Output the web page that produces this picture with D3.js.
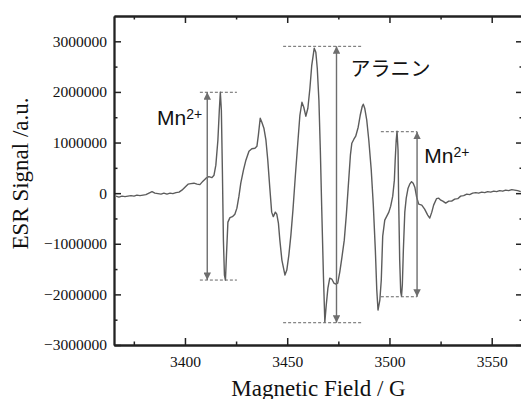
<!DOCTYPE html>
<html>
<head>
<meta charset="utf-8">
<script src="https://cdn.jsdelivr.net/npm/d3@7"></script>
<style>
  body { margin: 0; background: #fff; }
  svg { display: block; }
  .tick text { font-family: "Liberation Serif", "Times New Roman", serif; }
</style>
</head>
<body>
<div id="chart"></div>
<script>
// ESR spectrum (field in G, signal in a.u.)
const field = [
  3366.3, 3367.7, 3369.2, 3370.7, 3372.1, 3373.6, 3375.1, 3376.5, 3378.0, 3379.5,
  3380.9, 3382.4, 3383.9, 3385.3, 3386.8, 3388.3, 3389.7, 3391.2, 3392.7, 3394.1,
  3395.6, 3397.1, 3398.5, 3400.0, 3401.5, 3402.9, 3404.4, 3405.9, 3407.3, 3408.8,
  3410.3, 3411.7, 3413.2, 3414.2, 3415.1, 3416.1, 3416.8, 3417.3, 3417.8, 3418.3,
  3418.8, 3419.3, 3419.8, 3420.3, 3421.0, 3422.0, 3423.2, 3424.4, 3425.4, 3426.4,
  3427.3, 3428.6, 3429.8, 3431.3, 3432.7, 3434.2, 3435.2, 3435.9, 3436.8, 3437.6,
  3438.6, 3439.6, 3440.5, 3441.5, 3442.4, 3443.2, 3444.2, 3444.9, 3445.7, 3446.4,
  3447.4, 3448.9, 3449.8, 3450.8, 3451.8, 3452.8, 3454.0, 3455.2, 3456.2, 3457.2,
  3458.1, 3459.1, 3460.1, 3461.1, 3462.0, 3463.2, 3464.0, 3464.7, 3465.5, 3466.2,
  3466.9, 3467.7, 3468.4, 3469.1, 3469.9, 3470.8, 3471.8, 3472.8, 3473.8, 3474.7,
  3475.7, 3476.7, 3477.9, 3478.9, 3479.9, 3480.9, 3481.6, 3482.6, 3483.5, 3484.7,
  3485.7, 3486.7, 3487.2, 3487.9, 3488.9, 3489.9, 3491.1, 3492.1, 3493.1, 3493.8,
  3494.4, 3495.3, 3496.0, 3496.7, 3497.7, 3498.7, 3499.7, 3500.6, 3501.6, 3502.4,
  3502.8, 3503.3, 3503.7, 3504.2, 3504.5, 3505.0, 3505.5, 3505.9, 3506.3, 3506.8,
  3507.5, 3508.2, 3509.1, 3509.9, 3510.8, 3511.6, 3512.4, 3513.3, 3514.3, 3515.8,
  3517.2, 3518.7, 3519.7, 3520.7, 3521.6, 3523.0, 3524.1, 3525.1, 3526.1, 3527.5,
  3529.0, 3530.4, 3531.9, 3533.4, 3534.8, 3536.3, 3537.8, 3539.2, 3540.7, 3542.2,
  3543.6, 3545.1, 3546.6, 3548.0, 3549.5, 3551.0, 3552.4, 3553.9, 3555.4, 3556.8,
  3558.3, 3559.8, 3561.2, 3562.7, 3564.2
];
const signal = [
  -59000, -79000, -59000, -69000, -59000, -49000, -59000, -39000, -49000, -39000,
  -30000, 0, 30000, 0, -10000, -20000, 0, -20000, 0, -10000,
  10000, 20000, 59000, 118000, 178000, 188000, 197000, 178000, 168000, 237000,
  296000, 326000, 306000, 355000, 553000, 1046000, 1638000, 1993000, 1638000, 454000,
  -928000, -1618000, -1717000, -1224000, -572000, -484000, -464000, -415000, -296000, -59000,
  197000, 454000, 651000, 829000, 878000, 888000, 928000, 1145000, 1480000, 1401000,
  1283000, 1046000, 651000, 99000, -375000, -464000, -375000, -415000, -592000, -928000,
  -1322000, -1618000, -1520000, -1224000, -829000, -336000, 355000, 1007000, 1539000, 1796000,
  1697000, 1520000, 1678000, 2072000, 2526000, 2862000, 2783000, 2467000, 1835000, 849000,
  -336000, -1618000, -2546000, -2210000, -1875000, -1678000, -1697000, -1776000, -1796000, -1776000,
  -1559000, -1283000, -928000, -434000, 158000, 750000, 987000, 1066000, 1125000, 1303000,
  1539000, 1717000, 1757000, 1678000, 1441000, 1046000, 454000, -237000, -1125000, -1914000,
  -2309000, -2112000, -1717000, -849000, -533000, -454000, -375000, -257000, -59000, 257000,
  651000, 1046000, 1224000, 849000, -138000, -1322000, -1954000, -2033000, -1816000, -1125000,
  -375000, -99000, 99000, 178000, 227000, 197000, 118000, -79000, -217000, -237000,
  -316000, -434000, -493000, -375000, -237000, -109000, -99000, -138000, -158000, -197000,
  -158000, -158000, -118000, -109000, -59000, -49000, -20000, -30000, 0, 10000,
  0, 20000, 10000, 30000, 20000, 39000, 30000, 49000, 39000, 59000,
  49000, 69000, 59000, 49000, 30000
];

// axis ticks
const xMajor = [3400, 3450, 3500, 3550];
const xMinor = [3375, 3425, 3475, 3525];
const yMajor = [-3000000, -2000000, -1000000, 0, 1000000, 2000000, 3000000];
const yMinor = [-2500000, -1500000, -500000, 500000, 1500000, 2500000];

// peak-to-peak annotations
const arrowX      = [3410.9, 3474.1, 3513.5];
const arrowTop    = [1993000, 2901000, 1214000];
const arrowBottom = [-1717000, -2560000, -2047000];
const dashFrom    = [3407.3, 3448.0, 3495.8];
const dashTo      = [3425.4, 3487.1, 3513.5];

const labelMain = ["Mn", "アラニン", "Mn"];
const labelSup  = ["2+", "", "2+"];
const labelX    = [3386.3, 3481.0, 3517.0];
const labelY    = [1342000, 2309000, 592000];

const w = 521, h = 399;
const m = { left: 114, right: 523, top: 16, bottom: 345 };

const x = d3.scaleLinear().domain([3365.3, 3565.3]).range([m.left, m.right]);
const y = d3.scaleLinear().domain([-3000000, 3500000]).range([m.bottom, m.top]);

const svg = d3.select("#chart").append("svg")
  .attr("width", w)
  .attr("height", h)
  .style("overflow", "hidden");

const serif = "Liberation Serif, Times New Roman, serif";
const axisColor = "#222";

function styleAxis(g) {
  g.attr("font-family", serif).attr("font-size", 15.5);
  g.select(".domain").attr("stroke", axisColor).attr("stroke-width", 1.8);
  g.selectAll(".tick line").attr("stroke", axisColor).attr("stroke-width", 1.5);
  g.selectAll(".tick text")
    .attr("fill", "#111")
    .attr("font-family", serif)
    .attr("font-weight", "normal");
}

// bottom
svg.append("g")
  .attr("transform", `translate(0,${m.bottom})`)
  .call(d3.axisBottom(x).tickValues(xMajor).tickFormat(d3.format("d"))
    .tickSizeInner(-7).tickSizeOuter(0).tickPadding(11))
  .call(styleAxis);
svg.append("g")
  .attr("transform", `translate(0,${m.bottom})`)
  .call(d3.axisBottom(x).tickValues(xMinor).tickFormat("").tickSizeInner(-3.5).tickSizeOuter(0))
  .call(styleAxis);

// top
svg.append("g")
  .attr("transform", `translate(0,${m.top})`)
  .call(d3.axisTop(x).tickValues(xMajor).tickFormat("").tickSizeInner(-7).tickSizeOuter(0))
  .call(styleAxis);
svg.append("g")
  .attr("transform", `translate(0,${m.top})`)
  .call(d3.axisTop(x).tickValues(xMinor).tickFormat("").tickSizeInner(-3.5).tickSizeOuter(0))
  .call(styleAxis);

// left
svg.append("g")
  .attr("transform", `translate(${m.left},0)`)
  .call(d3.axisLeft(y).tickValues(yMajor).tickFormat(d3.format("d"))
    .tickSizeInner(-7).tickSizeOuter(0).tickPadding(7))
  .call(styleAxis);
svg.append("g")
  .attr("transform", `translate(${m.left},0)`)
  .call(d3.axisLeft(y).tickValues(yMinor).tickFormat("").tickSizeInner(-3.5).tickSizeOuter(0))
  .call(styleAxis);

// right
svg.append("g")
  .attr("transform", `translate(${m.right},0)`)
  .call(d3.axisRight(y).tickValues(yMajor).tickFormat("").tickSizeInner(-7).tickSizeOuter(0))
  .call(styleAxis);
svg.append("g")
  .attr("transform", `translate(${m.right},0)`)
  .call(d3.axisRight(y).tickValues(yMinor).tickFormat("").tickSizeInner(-3.5).tickSizeOuter(0))
  .call(styleAxis);

// spectrum
const pts = field.map((f, i) => [f, signal[i]]);
svg.append("path")
  .datum(pts)
  .attr("fill", "none")
  .attr("stroke", "#5c5c5c")
  .attr("stroke-width", 1.4)
  .attr("stroke-linejoin", "round")
  .attr("d", d3.line().x(d => x(d[0])).y(d => y(d[1])));

// arrowheads
svg.append("defs").append("marker")
  .attr("id", "head")
  .attr("viewBox", "0 0 10 10")
  .attr("refX", 10)
  .attr("refY", 5)
  .attr("markerUnits", "userSpaceOnUse")
  .attr("markerWidth", 8)
  .attr("markerHeight", 7.5)
  .attr("orient", "auto-start-reverse")
  .append("path")
  .attr("d", "M0,0L10,5L0,10Z")
  .attr("fill", "#6e6e6e");

const ann = svg.append("g");
arrowX.forEach((ax, i) => {
  [arrowTop[i], arrowBottom[i]].forEach(v => {
    ann.append("line")
      .attr("x1", x(dashFrom[i])).attr("x2", x(dashTo[i]))
      .attr("y1", y(v)).attr("y2", y(v))
      .attr("stroke", "#666")
      .attr("stroke-width", 1)
      .attr("stroke-dasharray", "3,2");
  });
  ann.append("line")
    .attr("x1", x(ax)).attr("x2", x(ax))
    .attr("y1", y(arrowTop[i])).attr("y2", y(arrowBottom[i]))
    .attr("stroke", "#6e6e6e")
    .attr("stroke-width", 1.4)
    .attr("marker-start", "url(#head)")
    .attr("marker-end", "url(#head)");
});

labelMain.forEach((t, i) => {
  const txt = ann.append("text")
    .attr("x", x(labelX[i]))
    .attr("y", y(labelY[i]))
    .attr("fill", "#111")
    .style("font-family", t === "Mn" ? "'Liberation Sans', Arial, sans-serif" : "'Noto Sans CJK JP', sans-serif")
    .style("font-size", t === "Mn" ? "21px" : "20px");
  txt.append("tspan").text(t);
  if (labelSup[i]) {
    txt.append("tspan")
      .attr("dy", -6)
      .style("font-size", "14px")
      .text(labelSup[i]);
  }
});

// axis titles
svg.append("text")
  .attr("x", (m.left + m.right) / 2)
  .attr("y", 396)
  .attr("text-anchor", "middle")
  .attr("fill", "#111")
  .style("font-family", serif)
  .style("font-size", "23px")
  .text("Magnetic Field / G");

svg.append("text")
  .attr("transform", `translate(28, 173.5) rotate(-90)`)
  .attr("text-anchor", "middle")
  .attr("fill", "#111")
  .style("font-family", serif)
  .style("font-size", "23px")
  .text("ESR Signal /a.u.");
</script>
</body>
</html>
